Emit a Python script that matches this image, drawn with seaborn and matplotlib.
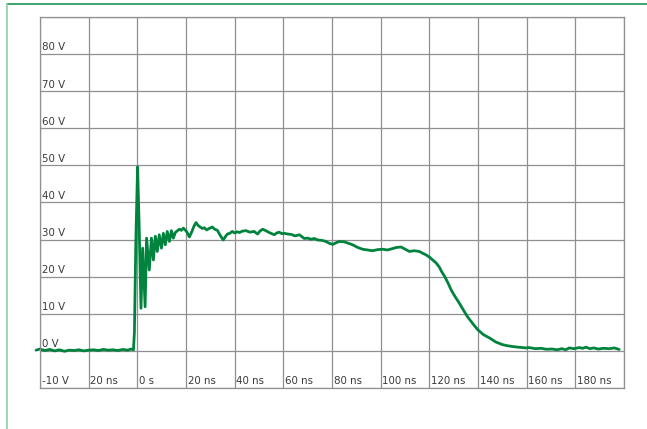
import numpy as np
import pandas as pd
import matplotlib
matplotlib.use("Agg")
import matplotlib.pyplot as plt
from matplotlib.lines import Line2D
import seaborn as sns

# Trace (time in ns, voltage in V)
time_ns = [
    -41.6, -40, -38, -36, -34, -32, -30, -28, -26, -24, -22, -20, -18, -16,
    -14, -12, -10, -8, -6, -4, -2.5, -1.6,
    -1.2, -0.6, 0.1, 0.7, 1.5, 2.2, 3.2, 3.8, 4.9, 5.8, 6.6, 7.4, 8.2, 9.0,
    9.9, 10.7, 11.5, 12.3, 13.2, 14.0, 14.8, 15.6, 16.5, 17.3, 18.1, 18.9,
    19.7, 20.5, 21.4, 22.3, 23.2, 24.1, 25.0, 25.8, 26.7, 27.5, 28.5, 29.5,
    30.8, 31.8, 32.9, 34.0, 35.3, 36.2, 37.0, 38.0, 39.0, 40.0, 41.0, 42.0,
    43.2, 44.7, 46.2, 48.0, 49.4, 50.4, 51.5, 52.8, 54.2, 55.2, 56.3, 57.3,
    58.3, 59.4, 60.4, 61.8, 63.2, 64.8, 66.6, 67.6, 68.6, 70.0, 71.4, 72.7,
    74.1, 75.8, 77.5, 78.9, 80.3, 81.5, 83.0, 85.0, 86.8, 88.5, 90.5, 92.6,
    94.6, 96.7, 98.8, 100.8, 102.8, 104.9, 106.6, 108.4, 110.1, 111.8, 113.8,
    115.9, 117.3, 118.6, 120.0, 121.4, 122.8, 124.1, 125.2, 126.2, 127.6,
    129.0, 130.6, 132.3, 134.0, 135.7, 137.8, 139.9, 142.2, 144.7, 147.3,
    150.0, 152.0, 154.0, 156.5, 159.7, 161.0, 163.5, 166.0, 168.0, 170.5,
    172.5, 174.5, 176.0, 177.5, 179.5, 181.6, 183.0, 184.4, 186.0, 187.5,
    189.5, 191.5, 194.0, 196.0, 198.0,
]
volts = [
    0.2, 0.5, 0.1, 0.4, 0.0, 0.3, -0.1, 0.2, 0.1, 0.3, 0.0, 0.2, 0.3, 0.1,
    0.4, 0.2, 0.3, 0.1, 0.4, 0.2, 0.5, 0.3,
    5.0, 30.0, 49.6, 35.0, 11.5, 27.7, 11.9, 30.4, 21.8, 30.4, 24.5, 30.9,
    26.8, 31.3, 27.7, 31.7, 28.6, 32.2, 29.5, 32.4, 30.4, 31.9, 32.4, 32.8,
    32.5, 33.1, 32.6, 31.9, 30.7, 32.0, 33.5, 34.6, 33.8, 33.4, 33.0, 33.2,
    32.6, 33.0, 33.4, 32.8, 32.5, 31.2, 29.9, 30.8, 31.5, 31.7, 32.2, 31.8,
    32.1, 31.9, 32.3, 32.4, 32.0, 32.2, 31.5, 32.3, 32.8, 32.4, 31.9, 31.6,
    31.3, 31.8, 32.0, 31.6, 31.7, 31.5, 31.4, 31.0, 31.3, 30.8, 30.3, 30.4,
    30.1, 30.3, 29.9, 29.8, 29.5, 29.0, 28.7, 29.1, 29.5, 29.4, 29.0, 28.6,
    27.9, 27.4, 27.2, 27.0, 27.3, 27.4, 27.2, 27.6, 27.9, 28.0, 27.4, 26.8,
    27.0, 26.8, 26.3, 25.9, 25.3, 24.5, 23.7, 22.6, 21.2, 20.2, 18.4, 16.4,
    14.6, 12.9, 11.0, 9.2, 7.4, 5.7, 4.4, 3.5, 2.4, 1.7, 1.4, 1.2, 1.0, 0.8,
    0.9, 0.6, 0.7, 0.45, 0.5, 0.3, 0.6, 0.3, 0.8, 0.6, 0.9, 0.7, 1.0, 0.6,
    0.8, 0.5, 0.7, 0.6, 0.8, 0.4,
]

# In-cell labels
volt_levels = [80, 70, 60, 50, 40, 30, 20, 10, 0, -10]
volt_labels = ["80 V", "70 V", "60 V", "50 V", "40 V", "30 V", "20 V", "10 V", "0 V", "-10 V"]
time_levels = [-20, 0, 20, 40, 60, 80, 100, 120, 140, 160, 180]
time_labels = ["20 ns", "0 s", "20 ns", "40 ns", "60 ns", "80 ns", "100 ns",
               "120 ns", "140 ns", "160 ns", "180 ns"]

df = pd.DataFrame({"t": time_ns, "v": volts})

sns.set_style("white")
plt.rcParams['font.family'] = ['Liberation Sans Narrow', 'DejaVu Sans']

fig = plt.figure(figsize=(6.47, 4.29), dpi=100)
ax = fig.add_axes([40 / 647, 1 - 388 / 429, 584 / 647, 371 / 429])

grid_col = "#8f8f94"
ax.set_xlim(-40, 200)
ax.set_ylim(-10, 90)
ax.set_xticks(np.arange(-40, 201, 20))
ax.set_yticks(np.arange(-10, 91, 10))
ax.tick_params(length=0, labelbottom=False, labelleft=False)
ax.grid(True, color=grid_col, linewidth=0.9)
for s in ax.spines.values():
    s.set_color(grid_col)
    s.set_linewidth(0.9)

sns.lineplot(data=df, x="t", y="v", ax=ax, color="#00843d", linewidth=2.0,
             estimator=None, sort=False, clip_on=False)
ax.set_xlabel("")
ax.set_ylabel("")

txt_col = "#3a3a3a"
for v, lab in zip(volt_levels, volt_labels):
    ax.annotate(lab, xy=(-40, v), xytext=(1.2, 2.6), textcoords="offset points",
                fontsize=7.4, color=txt_col, va="baseline", ha="left")
for t, lab in zip(time_levels, time_labels):
    ax.annotate(lab, xy=(t, -10), xytext=(1.2, 2.8), textcoords="offset points",
                fontsize=7.4, color=txt_col, va="baseline", ha="left")

# green frame around the picture
fig.add_artist(Line2D([7 / 647, 1], [1 - 4 / 429, 1 - 4 / 429],
                      transform=fig.transFigure, color="#1f9455", linewidth=1.2))
fig.add_artist(Line2D([7 / 647, 7 / 647], [0, 1 - 4 / 429],
                      transform=fig.transFigure, color="#8fcfa9", linewidth=1.2))

fig.savefig("out.png", dpi=100)
